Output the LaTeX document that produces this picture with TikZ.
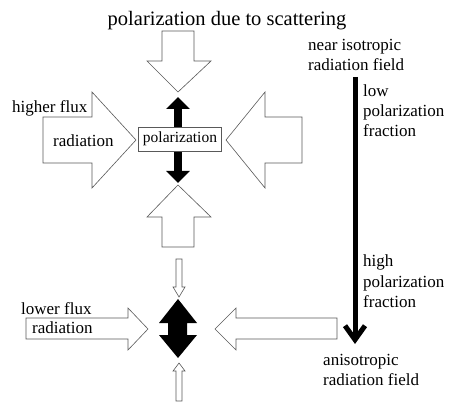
\documentclass[tikz,border=0pt]{standalone}
\usepackage{fontspec}
\setmainfont{Liberation Serif}
\usetikzlibrary{arrows.meta}

\tikzset{
  blockarrow/.style={draw=black!65, line width=0.6pt, fill=white, line join=miter},
  txt/.style={inner sep=0pt, font=\fontsize{17}{20}\selectfont, align=left},
}

\begin{document}
\begin{tikzpicture}[x=1pt, y=-1pt]
    \useasboundingbox (0,0) rectangle (463,403);
    % Title
    \node[txt, anchor=base, font=\fontsize{20.5}{24}\selectfont] (title) at (227,26) {polarization due to scattering};
    % Upper case: big open arrows from four sides
    \draw[blockarrow] (162,31) -- (194,31) -- (194,61) -- (211,61) -- (178,92) -- (147,61) -- (162,61) -- cycle; % from top
    \draw[blockarrow] (162,247) -- (194,247) -- (194,217) -- (211,217) -- (178,185) -- (147,217) -- (162,217) -- cycle; % from bottom
    \draw[blockarrow] (43,117) -- (92,117) -- (92,92) -- (136,140) -- (92,188) -- (92,163) -- (43,163) -- cycle; % from left
    \draw[blockarrow] (302,117) -- (265,117) -- (265,92) -- (226,140) -- (265,188) -- (265,163) -- (302,163) -- cycle; % from right
    % Polarization (double arrow through the box)
    \coordinate (pu) at (178,97);
    \coordinate (pd) at (178,183);
    \draw[line width=8pt, {Triangle[width=23pt,length=12pt]}-{Triangle[width=23pt,length=12pt]}] (pu) -- (pd);
    \node[draw=black!65, fill=white, line width=0.6pt, minimum width=83pt, minimum height=24pt, inner sep=0pt,
          font=\fontsize{15.5}{18}\selectfont] (pol) at (180,139) {polarization};
    \node[txt, anchor=base west] (hiflux) at (12,113) {higher flux};
    \node[txt, anchor=base west] (hirad) at (53,147) {radiation};
    % Lower case: thin arrows above and below, long arrows from the sides
    \draw[blockarrow] (176,259) -- (182,259) -- (182,287) -- (185,287) -- (179,297) -- (173,287) -- (176,287) -- cycle; % from top
    \draw[blockarrow] (176,401) -- (182,401) -- (182,371) -- (185,371) -- (179,363) -- (173,371) -- (176,371) -- cycle; % from bottom
    \draw[blockarrow] (26,318) -- (128,318) -- (128,308) -- (148,329) -- (128,350) -- (128,339) -- (26,339) -- cycle; % from left
    \draw[blockarrow] (337,318) -- (236,318) -- (236,308) -- (215,329) -- (236,350) -- (236,339) -- (337,339) -- cycle; % from right
    % Strong polarization
    \fill (178,299) -- (197,323) -- (187,323) -- (187,335) -- (197,335) -- (178,358)
          -- (159,335) -- (168,335) -- (168,323) -- (159,323) -- cycle;
    \node[txt, anchor=base west] (loflux) at (21,315) {lower flux};
    \node[txt, anchor=base west] (lorad) at (32,333) {radiation};
    % Right: from isotropic to anisotropic field (base = last line)
    \node[txt, anchor=base west] (iso) at (308,71) {near isotropic\\radiation field};
    \node[txt, anchor=base west] (low) at (363,137) {low\\polarization\\fraction};
    \node[txt, anchor=base west] (high) at (363,307) {high\\polarization\\fraction};
    \node[txt, anchor=base west] (aniso) at (323,385) {anisotropic\\radiation field};
    \coordinate (top) at (355,77);
    \coordinate (bot) at (355,344);
    \draw[line width=5pt, -{Straight Barb[length=14pt, width=20pt]}] (top) -- (bot);
\end{tikzpicture}
\end{document}
